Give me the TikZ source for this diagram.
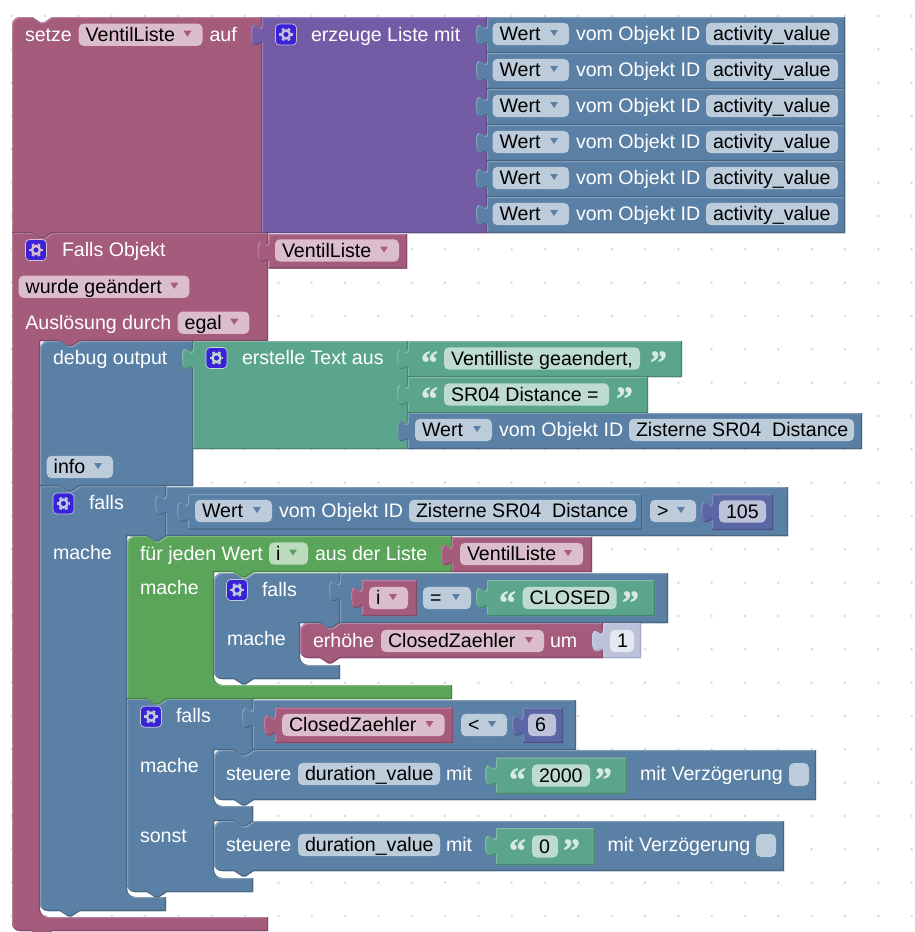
\documentclass[tikz,border=0pt]{standalone}
\usepackage{fontspec}
\setmainfont{Liberation Sans}
\newfontfamily\quotefont{Liberation Serif Bold}[FakeBold=1.2]
\definecolor{pink}{HTML}{A55B7C}\definecolor{pinkL}{HTML}{C08CA5}\definecolor{pinkD}{HTML}{84496A}\definecolor{pinkF}{HTML}{DBBDCC}
\definecolor{purp}{HTML}{745BA5}\definecolor{purpL}{HTML}{A08CC4}\definecolor{purpD}{HTML}{5D4984}\definecolor{purpF}{HTML}{C7BDDB}
\definecolor{blueb}{HTML}{5B80A5}\definecolor{bluebL}{HTML}{8CA6C0}\definecolor{bluebD}{HTML}{496684}\definecolor{bluebF}{HTML}{BDCCDB}
\definecolor{tealb}{HTML}{5BA58C}\definecolor{tealbL}{HTML}{8CC0AE}\definecolor{tealbD}{HTML}{498470}\definecolor{tealbF}{HTML}{BDDBD1}
\definecolor{loopg}{HTML}{5BA55B}\definecolor{loopgL}{HTML}{8CC08C}\definecolor{loopgD}{HTML}{498449}\definecolor{loopgF}{HTML}{BDDBBD}
\definecolor{indi}{HTML}{5B67A5}\definecolor{indiL}{HTML}{8C95C0}\definecolor{indiD}{HTML}{495284}\definecolor{indiF}{HTML}{BDC2DB}
\definecolor{pale}{HTML}{BDC2DB}\definecolor{paleL}{HTML}{D2D5E6}\definecolor{paleD}{HTML}{A5AAC8}\definecolor{paleF}{HTML}{E5E7F1}
\definecolor{gearbox}{HTML}{3A22D8}
\newcounter{nd}
\newcommand{\TN}[2]{-- (#1+20,#2) -- (#1+28,#2+5.3) -- (#1+32,#2+5.3) -- (#1+40,#2)}
\newcommand{\BN}[2]{-- (#1+40,#2) -- (#1+32,#2+5.3) -- (#1+28,#2+5.3) -- (#1+20,#2)}
\newcommand{\TAB}[2]{-- (#1,#2+26.7) .. controls (#1,#2+23.4) and (#1-11,#2+37.4) .. (#1-11,#2+16.7) .. controls (#1-11,#2-4) and (#1,#2+20) .. (#1,#2+6.7)}
\newcommand{\blk}[2]{%
  \fill[#1] #2;
  \begin{scope}
    \clip #2;
    \draw[#1L,line width=1.2,xshift=.5pt,yshift=-.5pt] #2;
    \draw[#1D,line width=1.2,xshift=-.5pt,yshift=.5pt] #2;
  \end{scope}}
\newcommand{\val}[5]{\blk{#1}{(#2,#3) -- (#4,#3) -- (#4,#5) -- (#2,#5) \TAB{#2}{#3} -- cycle}}
\newcommand{\lbl}[3]{\stepcounter{nd}\node[txt,white] (n\arabic{nd}) at (#1,#2+6.6) {#3};}
% field without arrow: block colour, x1, x2, centre y, text
\newcommand{\fld}[5]{\stepcounter{nd}
  \fill[#1F,rounded corners=5pt] (#2,#4-11.2) rectangle (#3,#4+11.2);
  \node[txt,black] (n\arabic{nd}) at (#2+7,#4+6.6) {#5};}
% field with arrow
\newcommand{\afld}[5]{\fld{#1}{#2}{#3}{#4}{#5}
  \fill[#1] (#3-19,#4-4) -- (#3-11,#4-4) -- (#3-15,#4+2) -- cycle;}
\newcommand{\gear}[3]{%
  \fill[gearbox,draw=#1F,line width=.7,rounded corners=4pt] (#2-10.5,#3-10.5) rectangle (#2+10.5,#3+10.5);
  \draw[#1F,line width=2.4] (#2,#3) circle[radius=4];
  \foreach \a in {0,60,120,180,240,300}{\draw[#1F,line width=2.8] ({#2+5*cos(\a)},{#3+5*sin(\a)}) -- ({#2+6.8*cos(\a)},{#3+6.8*sin(\a)});}}
\newcommand{\oq}[2]{\stepcounter{nd}\node[qt] (n\arabic{nd}) at (#1,#2+16) {“};}
\newcommand{\cq}[2]{\stepcounter{nd}\node[qt] (n\arabic{nd}) at (#1,#2+16) {”};}
\tikzset{
  txt/.style={inner sep=0pt,outer sep=0pt,anchor=base west,font=\fontsize{19.6}{22}\selectfont},
  qt/.style={inner sep=0pt,outer sep=0pt,anchor=base west,text=tealbF!60!white,font=\fontsize{34}{36}\quotefont}
}
\begin{document}
\begin{tikzpicture}[x=1pt,y=-1pt]
\useasboundingbox (0,0) rectangle (914,932);
\fill[white] (0,0) rectangle (914,932);
\foreach \i in {0,...,27}{\foreach \j in {0,...,27}{\fill[black!14] ({11.7+33.33*\i},{16+33.33*\j}) circle[radius=1.4];}}

% ---- Falls Objekt (pink C)
\blk{pink}{(12,233) \TN{12}{233} -- (268,233) -- (268,341) \BN{40}{341} -- (40,341) -- (40,909) .. controls (40,913.4) and (43.6,917) .. (48,917) -- (268,917) -- (268,931) \BN{12}{931} -- (20,931) .. controls (15.6,931) and (12,927.4) .. (12,923) -- cycle}
% ---- setze
\blk{pink}{(12,25) .. controls (12,20.6) and (15.6,17) .. (20,17) \TN{12}{17} -- (262,17) -- (262,233) \BN{12}{233} -- (12,233) -- cycle}
\lbl{25}{34.5}{setze}
\afld{pink}{78.7}{202.5}{34.7}{VentilListe}
\lbl{209.5}{34.5}{auf}
\val{purp}{262}{17}{487}{233}
\gear{purp}{286}{34.5}
\lbl{311}{34.5}{erzeuge Liste mit}
\foreach \k in {0,...,5}{
  \val{blueb}{487}{17+36*\k}{845}{53+36*\k}
  \afld{blueb}{492.5}{569}{34+36*\k}{Wert}
  \lbl{576}{34+36*\k}{vom Objekt ID}
  \fld{blueb}{706}{838}{34+36*\k}{activity\_value}
}
\gear{pink}{36}{250}
\lbl{62}{250}{Falls Objekt}
\val{pink}{268.5}{234}{407}{268.5}
\afld{pink}{275}{399}{250.5}{VentilListe}
\afld{pink}{18.7}{189.3}{286.7}{wurde geändert}
\lbl{25.3}{322.5}{Auslösung durch}
\afld{pink}{177.7}{249.3}{322.7}{egal}

% ---- falls 1 (blue C)
\blk{blueb}{(40,486) \TN{40}{486} -- (166,486) -- (166,536) \BN{127}{536} -- (127,536) -- (127,889) .. controls (127,893.4) and (130.6,897) .. (135,897) -- (166,897) -- (166,911) \BN{40}{911} -- (48,911) .. controls (43.6,911) and (40,907.4) .. (40,903) -- cycle}
% ---- debug output
\blk{blueb}{(40,349) .. controls (40,344.6) and (43.6,341) .. (48,341) \TN{40}{341} -- (193,341) -- (193,486) \BN{40}{486} -- (40,486) -- cycle}
\lbl{53}{358}{debug output}
\afld{blueb}{46.7}{113}{467}{info}
\val{tealb}{193}{341}{408}{449}
\gear{tealb}{216.5}{358}
\lbl{242}{358}{erstelle Text aus}
\val{tealb}{408}{341}{682}{377}
\oq{421}{358}
\fld{tealb}{444}{640}{358.5}{Ventilliste geaendert,}
\cq{650}{358}
\val{tealb}{408}{377}{648}{413}
\oq{421}{394}
\fld{tealb}{444}{609}{394.5}{SR04 Distance =}
\cq{616}{394}
\val{blueb}{408}{413}{862}{449}
\afld{blueb}{415}{492}{430}{Wert}
\lbl{499}{430}{vom Objekt ID}
\fld{blueb}{629}{854}{430}{Zisterne SR04\ \ Distance}

\gear{blueb}{63.5}{503.5}
\lbl{89}{503}{falls}
\lbl{53}{553}{mache}
\val{blueb}{166}{487}{788}{536}
\val{blueb}{188}{494}{642}{529.5}
\afld{blueb}{195}{272}{511}{Wert}
\lbl{279}{511}{vom Objekt ID}
\fld{blueb}{409}{636}{511}{Zisterne SR04\ \ Distance}
\afld{blueb}{650}{696}{511}{>}
\val{indi}{712}{494}{773}{530}
\fld{indi}{719}{766}{511.5}{105}

% ---- falls 2 (blue C, after the loop)
\blk{blueb}{(127,699) \TN{127}{699} -- (253,699) -- (253,750) \BN{214}{750} -- (214,750) -- (214,798) .. controls (214,802.4) and (217.6,806) .. (222,806) -- (253,806) -- (253,821) \BN{214}{821} -- (214,821) -- (214,870) .. controls (214,874.4) and (217.6,878) .. (222,878) -- (253,878) -- (253,892) \BN{127}{892} -- (135,892) .. controls (130.6,892) and (127,888.4) .. (127,884) -- cycle}
% ---- für jeden (green C)
\blk{loopg}{(127,544) .. controls (127,539.6) and (130.6,536) .. (135,536) \TN{127}{536} -- (452,536) -- (452,572) \BN{214}{572} -- (214,572) -- (214,677) .. controls (214,681.4) and (217.6,685) .. (222,685) -- (452,685) -- (452,699) \BN{127}{699} -- (127,699) -- cycle}
\lbl{140}{554}{für jeden Wert}
\afld{loopg}{269}{308}{553.5}{i}
\lbl{315}{554}{aus der Liste}
\val{pink}{452}{537}{592}{572}
\afld{pink}{460}{583}{554}{VentilListe}
\lbl{140}{588}{mache}

% ---- inner falls
\blk{blueb}{(214,581) .. controls (214,576.6) and (217.6,573) .. (222,573) \TN{214}{573} -- (340,573) -- (340,623) \BN{300}{623} -- (300,623) -- (300,657) .. controls (300,661.4) and (303.6,665) .. (308,665) -- (340,665) -- (340,679) \BN{214}{679} -- (222,679) .. controls (217.6,679) and (214,675.4) .. (214,671) -- cycle}
\gear{blueb}{237}{590}
\lbl{262}{590}{falls}
\lbl{227}{639}{mache}
\val{blueb}{340}{573}{668}{623}
\val{pink}{362}{580}{417}{616}
\afld{pink}{369}{408}{598}{i}
\afld{blueb}{423}{471}{598}{=}
\val{tealb}{487}{580}{655}{616}
\oq{499}{598}
\fld{tealb}{522.7}{616.7}{598}{CLOSED}
\cq{622}{598}
% ---- erhöhe
\blk{pink}{(300,631) .. controls (300,626.6) and (303.6,623) .. (308,623) \TN{300}{623} -- (603,623) -- (603,658) \BN{300}{658} -- (308,658) .. controls (303.6,658) and (300,654.4) .. (300,650) -- cycle}
\lbl{313}{641}{erhöhe}
\afld{pink}{381}{544}{641}{ClosedZaehler}
\lbl{550}{641}{um}
\val{pale}{603}{623}{641}{658}
\fld{pale}{610}{634}{641}{1}

% ---- falls 2 contents
\gear{blueb}{151}{716.7}
\lbl{176}{716}{falls}
\lbl{140}{766}{mache}
\lbl{140}{836}{sonst}
\val{blueb}{253}{700}{576}{750}
\val{pink}{275}{707.5}{453}{743}
\afld{pink}{282}{444.5}{725}{ClosedZaehler}
\afld{blueb}{461}{507}{725}{<}
\val{indi}{523}{707.5}{563}{743}
\fld{indi}{528}{556}{725}{6}

\blk{blueb}{(214,758) .. controls (214,753.6) and (217.6,750) .. (222,750) \TN{214}{750} -- (816,750) -- (816,800) \BN{214}{800} -- (222,800) .. controls (217.6,800) and (214,796.4) .. (214,792) -- cycle}
\lbl{226}{774}{steuere}
\fld{blueb}{298}{440}{774}{duration\_value}
\lbl{446}{774}{mit}
\val{tealb}{496}{757.5}{627}{794}
\oq{509}{775}
\fld{tealb}{532}{590}{775.5}{2000}
\cq{595}{775}
\lbl{640}{774}{mit Verzögerung}
\fill[bluebF,rounded corners=5pt] (789,763) rectangle (809,786);

\blk{blueb}{(214,829) .. controls (214,824.6) and (217.6,821) .. (222,821) \TN{214}{821} -- (784,821) -- (784,871) \BN{214}{871} -- (222,871) .. controls (217.6,871) and (214,867.4) .. (214,863) -- cycle}
\lbl{226}{845}{steuere}
\fld{blueb}{298}{440}{845}{duration\_value}
\lbl{446}{845}{mit}
\val{tealb}{496}{828}{595}{865}
\oq{509}{846}
\fld{tealb}{532}{558}{846.5}{0}
\cq{563}{846}
\lbl{607.5}{845}{mit Verzögerung}
\fill[bluebF,rounded corners=5pt] (756,834) rectangle (776,857);
\end{tikzpicture}
\end{document}
